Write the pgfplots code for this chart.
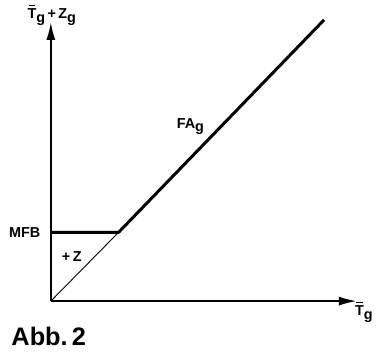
\documentclass[border=0pt]{standalone}
\usepackage{fontspec}
\setmainfont{Liberation Sans}
\usepackage{pgfplots}
\pgfplotsset{compat=1.18}
\usetikzlibrary{arrows.meta}
\newcommand{\Tb}{\rlap{\hspace{0.08em}\rule[0.86em]{0.46em}{0.11em}}T}
\newcommand{\sg}{\raisebox{-0.5ex}{g}}
\begin{document}
\begin{tikzpicture}
\begin{axis}[
 x=1bp, y=1bp, xmin=0, xmax=307, ymin=0, ymax=280,
 axis lines=left,
 axis line style={line width=2bp, -{Latex[length=18bp,width=9bp]}},
 xtick=\empty, ytick=\empty, clip=false,
]
\addplot[black, line width=0.9bp] coordinates {(0,0) (68,69)};
\addplot[black, line width=3bp, line join=round] coordinates {(0,69) (68,69) (274,282)};
\node[font=\bfseries\fontsize{14.5}{14.5}\selectfont, anchor=east] at (axis cs:-7,69) {MFB};
\node[font=\bfseries\fontsize{14.5}{14.5}\selectfont] at (axis cs:21,45) {+\,Z};
\node[font=\bfseries\fontsize{14.5}{14.5}\selectfont] at (axis cs:140,175) {FA\sg};
\node[font=\bfseries\fontsize{14.5}{14.5}\selectfont] at (axis cs:1,287) {\Tb\sg\,+\,Z\sg};
\node[font=\bfseries\fontsize{14.5}{14.5}\selectfont] at (axis cs:314,-11) {\Tb\sg};
\node[font=\bfseries\fontsize{25.5}{25.5}\selectfont, anchor=base west] at (axis cs:-43,-45) {Abb.\,2};
\coordinate (bl) at (axis cs:-51,-51);
\coordinate (tr) at (axis cs:325,302);
\end{axis}
\path (bl) rectangle (tr);
\end{tikzpicture}
\end{document}
